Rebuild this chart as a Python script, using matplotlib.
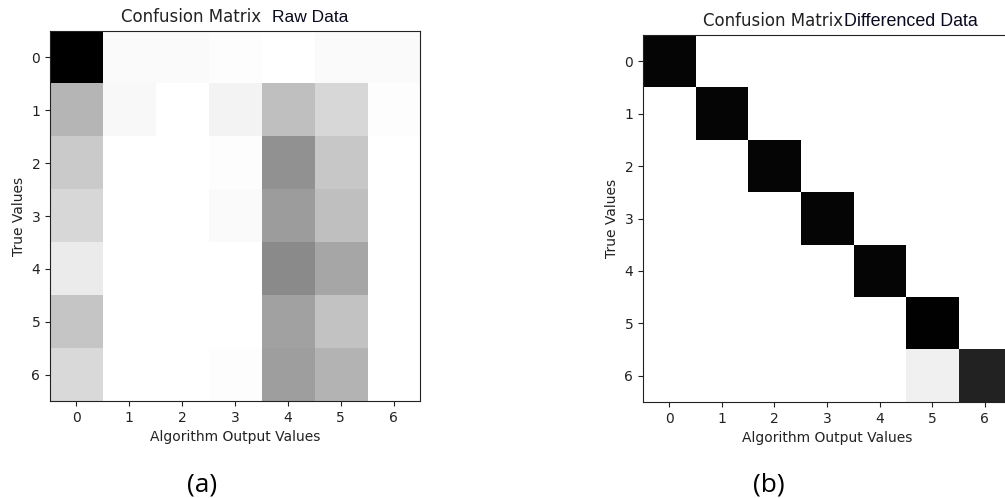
import matplotlib
matplotlib.use("Agg")
import matplotlib.pyplot as plt
import numpy as np

classes = [0, 1, 2, 3, 4, 5, 6]

raw_matrix = [
    [1.00, 0.02, 0.02, 0.01, 0.00, 0.02, 0.02],
    [0.29, 0.03, 0.00, 0.05, 0.25, 0.16, 0.01],
    [0.21, 0.00, 0.00, 0.01, 0.43, 0.22, 0.00],
    [0.16, 0.00, 0.00, 0.02, 0.39, 0.25, 0.00],
    [0.08, 0.00, 0.00, 0.00, 0.46, 0.35, 0.00],
    [0.23, 0.00, 0.00, 0.00, 0.37, 0.24, 0.00],
    [0.15, 0.00, 0.00, 0.01, 0.38, 0.30, 0.00],
]

diff_matrix = [
    [0.98, 0.00, 0.00, 0.00, 0.00, 0.00, 0.00],
    [0.00, 0.98, 0.00, 0.00, 0.00, 0.00, 0.00],
    [0.00, 0.00, 0.98, 0.00, 0.00, 0.00, 0.00],
    [0.00, 0.00, 0.00, 0.98, 0.00, 0.00, 0.00],
    [0.00, 0.00, 0.00, 0.00, 0.98, 0.00, 0.00],
    [0.00, 0.00, 0.00, 0.00, 0.00, 0.99, 0.00],
    [0.00, 0.00, 0.00, 0.00, 0.00, 0.06, 0.86],
]

W, H = 1005, 498
fig = plt.figure(figsize=(W / 100, H / 100), dpi=100)
fig.patch.set_facecolor("white")


def box(l, t, r, b):
    return [l / W, 1 - b / H, (r - l) / W, (b - t) / H]


def panel(rect, data):
    ax = fig.add_axes(rect)
    ax.imshow(np.array(data), cmap="gray_r", vmin=0, vmax=1,
              interpolation="nearest", aspect="auto")
    ax.set_xticks(range(len(classes)))
    ax.set_xticklabels([str(c) for c in classes])
    ax.set_yticks(range(len(classes)))
    ax.set_yticklabels([str(c) for c in classes])
    ax.tick_params(labelsize=10, colors="#222222")
    ax.set_xlabel("Algorithm Output Values", fontsize=10, color="#222222")
    ax.set_ylabel("True Values", fontsize=10, color="#222222")
    for s in ax.spines.values():
        s.set_color("#222222")
    return ax


ax1 = panel(box(50, 31, 420, 401), raw_matrix)
ax2 = panel(box(643, 35, 1011, 402), diff_matrix)

# titles
fig.text(121 / W, 1 - 17 / H, "Confusion Matrix", fontsize=12, color="#222222",
         ha="left", va="center")
fig.text(272 / W, 1 - 17 / H, "Raw Data", fontsize=12.5, color="#0a0a20",
         family="Liberation Sans", ha="left", va="center")
fig.text(703 / W, 1 - 21 / H, "Confusion Matrix", fontsize=12, color="#222222",
         ha="left", va="center")
fig.text(844 / W, 1 - 21 / H, "Differenced Data", fontsize=12.9, color="#0a0a20",
         family="Liberation Sans", ha="left", va="center")

# panel labels
fig.text(202 / W, 1 - 485 / H, "(a)", fontsize=19, family="Open Sans",
         color="black", ha="center", va="center")
fig.text(769 / W, 1 - 485 / H, "(b)", fontsize=19, family="Open Sans",
         color="black", ha="center", va="center")

fig.savefig("out.png", dpi=100, facecolor="white")
